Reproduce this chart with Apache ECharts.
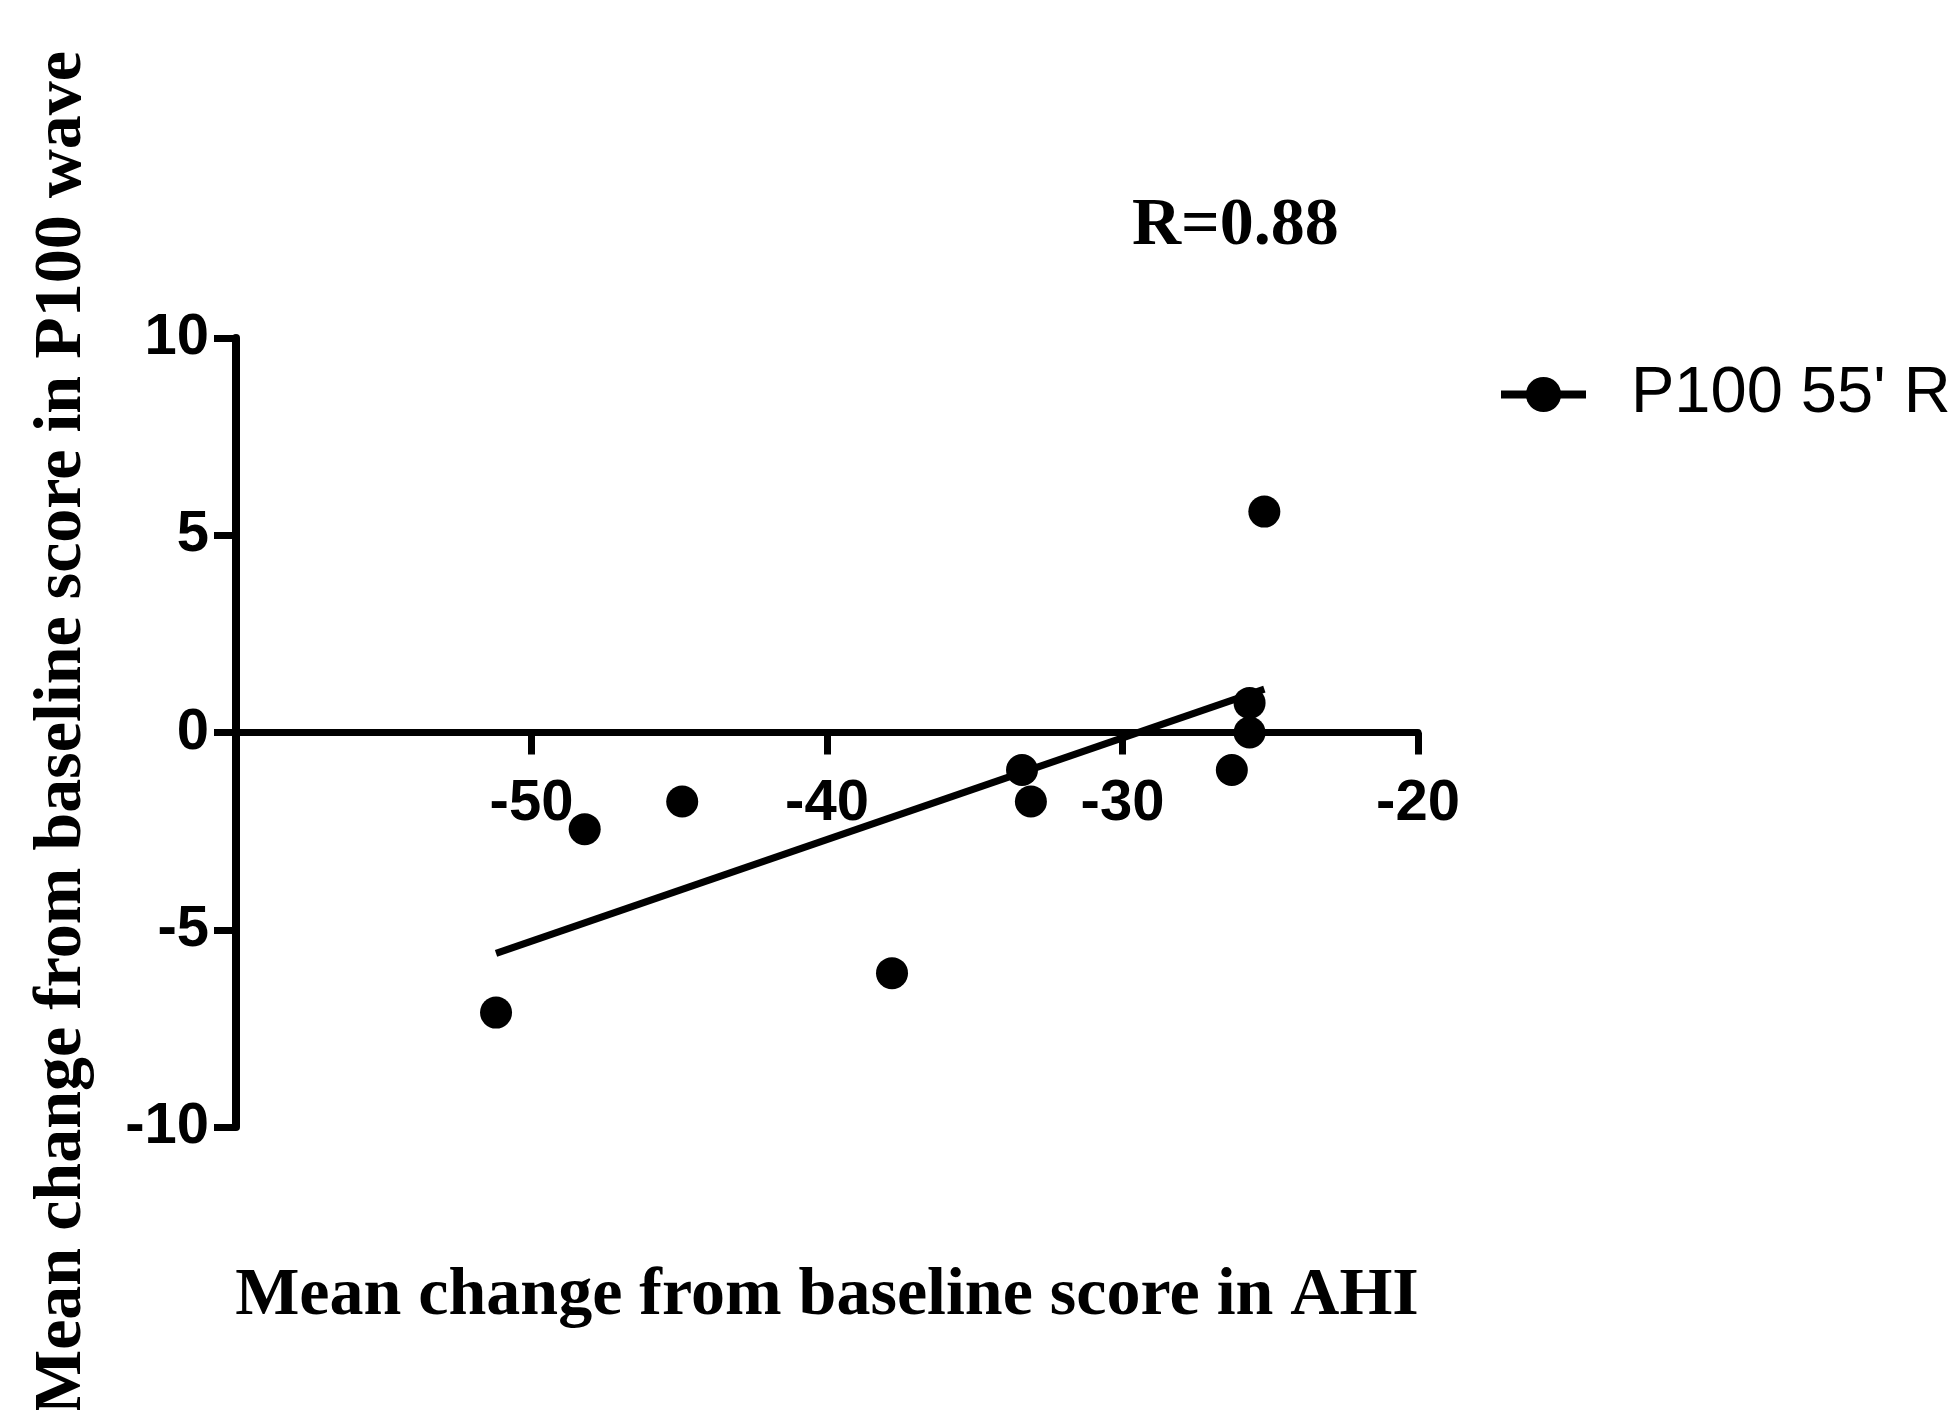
<!DOCTYPE html>
<html>
<head>
<meta charset="utf-8">
<title>P100 vs AHI</title>
<script src="https://cdn.jsdelivr.net/npm/echarts@6/dist/echarts.min.js"></script>
<style>
  html, body { margin: 0; padding: 0; background: #fff; }
  #chart { width: 1954px; height: 1410px; }
</style>
</head>
<body>
<div id="chart"></div>
<script>
// values
const ahiChange = [-51.2, -48.2, -44.9, -37.8, -33.4, -33.1, -26.3, -25.7, -25.7, -25.2]
const p100Change = [-7.1, -2.45, -1.75, -6.1, -0.95, -1.75, -0.95, 0.75, 0, 5.6]
// regression line end points
const fitX = [-51.2, -25.2]
const fitY = [-5.6, 1.1]
const xTicks = [-60, -50, -40, -30, -20]
const yTicks = [-10, -5, 0, 5, 10]
const seriesName = "P100 55' R"
const rText = 'R=0.88'

const points = ahiChange.map((x, i) => [x, p100Change[i]])
const fitLine = fitX.map((x, i) => [x, fitY[i]])

const chart = echarts.init(document.getElementById('chart'))

const tickFont = {
  color: '#000',
  fontFamily: 'Liberation Sans, Arial, sans-serif',
  fontWeight: 'bold',
  fontSize: 58
}
const nameFont = {
  color: '#000',
  fontFamily: 'Liberation Serif, Times New Roman, serif',
  fontWeight: 'bold',
  fontSize: 68
}

// grid box, x axis sits on y = 0 (middle of the -10..10 range)
const gridTop = 338
const gridBottom = 283
const gridHeight = 1410 - gridTop - gridBottom

const option = {
  backgroundColor: '#fff',
  animation: false,
  title: {
    text: rText,
    left: 1127,
    top: 187,
    textStyle: {
      color: '#000',
      fontFamily: 'Liberation Serif, Times New Roman, serif',
      fontWeight: 'bold',
      fontSize: 68
    }
  },
  legend: {
    data: [seriesName],
    left: 1492,
    top: 357,
    orient: 'vertical',
    itemWidth: 85,
    itemHeight: 44,
    selectedMode: false,
    lineStyle: {
      width: 8,
      color: '#000',
      opacity: 1
    },
    textStyle: {
      color: '#000',
      fontFamily: 'Liberation Sans, Arial, sans-serif',
      fontSize: 65,
      padding: [0, 0, 0, 40]
    }
  },
  grid: {
    left: 236,
    right: 536,
    top: gridTop,
    bottom: gridBottom,
    outerBoundsMode: 'none'
  },
  xAxis: {
    type: 'value',
    min: xTicks[0],
    max: xTicks[xTicks.length - 1],
    interval: 10,
    offset: -gridHeight / 2,
    name: 'Mean change from baseline score in AHI',
    nameLocation: 'middle',
    nameGap: 530,
    nameTextStyle: nameFont,
    axisLine: { onZero: false, lineStyle: { color: '#000', width: 7 } },
    axisTick: { length: 22, lineStyle: { color: '#000', width: 7 } },
    axisLabel: Object.assign({}, tickFont, {
      margin: 42,
      formatter: v => (v === xTicks[0] ? '' : String(v))
    }),
    splitLine: { show: false }
  },
  yAxis: {
    type: 'value',
    min: yTicks[0],
    max: yTicks[yTicks.length - 1],
    interval: 5,
    name: 'Mean change from baseline score in P100 wave',
    nameLocation: 'middle',
    nameGap: 140,
    nameTextStyle: nameFont,
    axisLine: { lineStyle: { color: '#000', width: 8 } },
    axisTick: { length: 22, lineStyle: { color: '#000', width: 7 } },
    axisLabel: Object.assign({}, tickFont, { margin: 27 }),
    splitLine: { show: false }
  },
  series: [
    {
      name: 'fit',
      type: 'line',
      data: fitLine,
      showSymbol: false,
      symbol: 'none',
      silent: true,
      lineStyle: { color: '#000', width: 7 },
      z: 2
    },
    {
      name: seriesName,
      type: 'line',
      data: points,
      symbol: 'circle',
      symbolSize: 32,
      itemStyle: { color: '#000' },
      lineStyle: { width: 0, opacity: 0 },
      emphasis: { disabled: true },
      z: 3
    }
  ]
}

chart.setOption(option)
window.addEventListener('resize', () => chart.resize())
</script>
</body>
</html>
